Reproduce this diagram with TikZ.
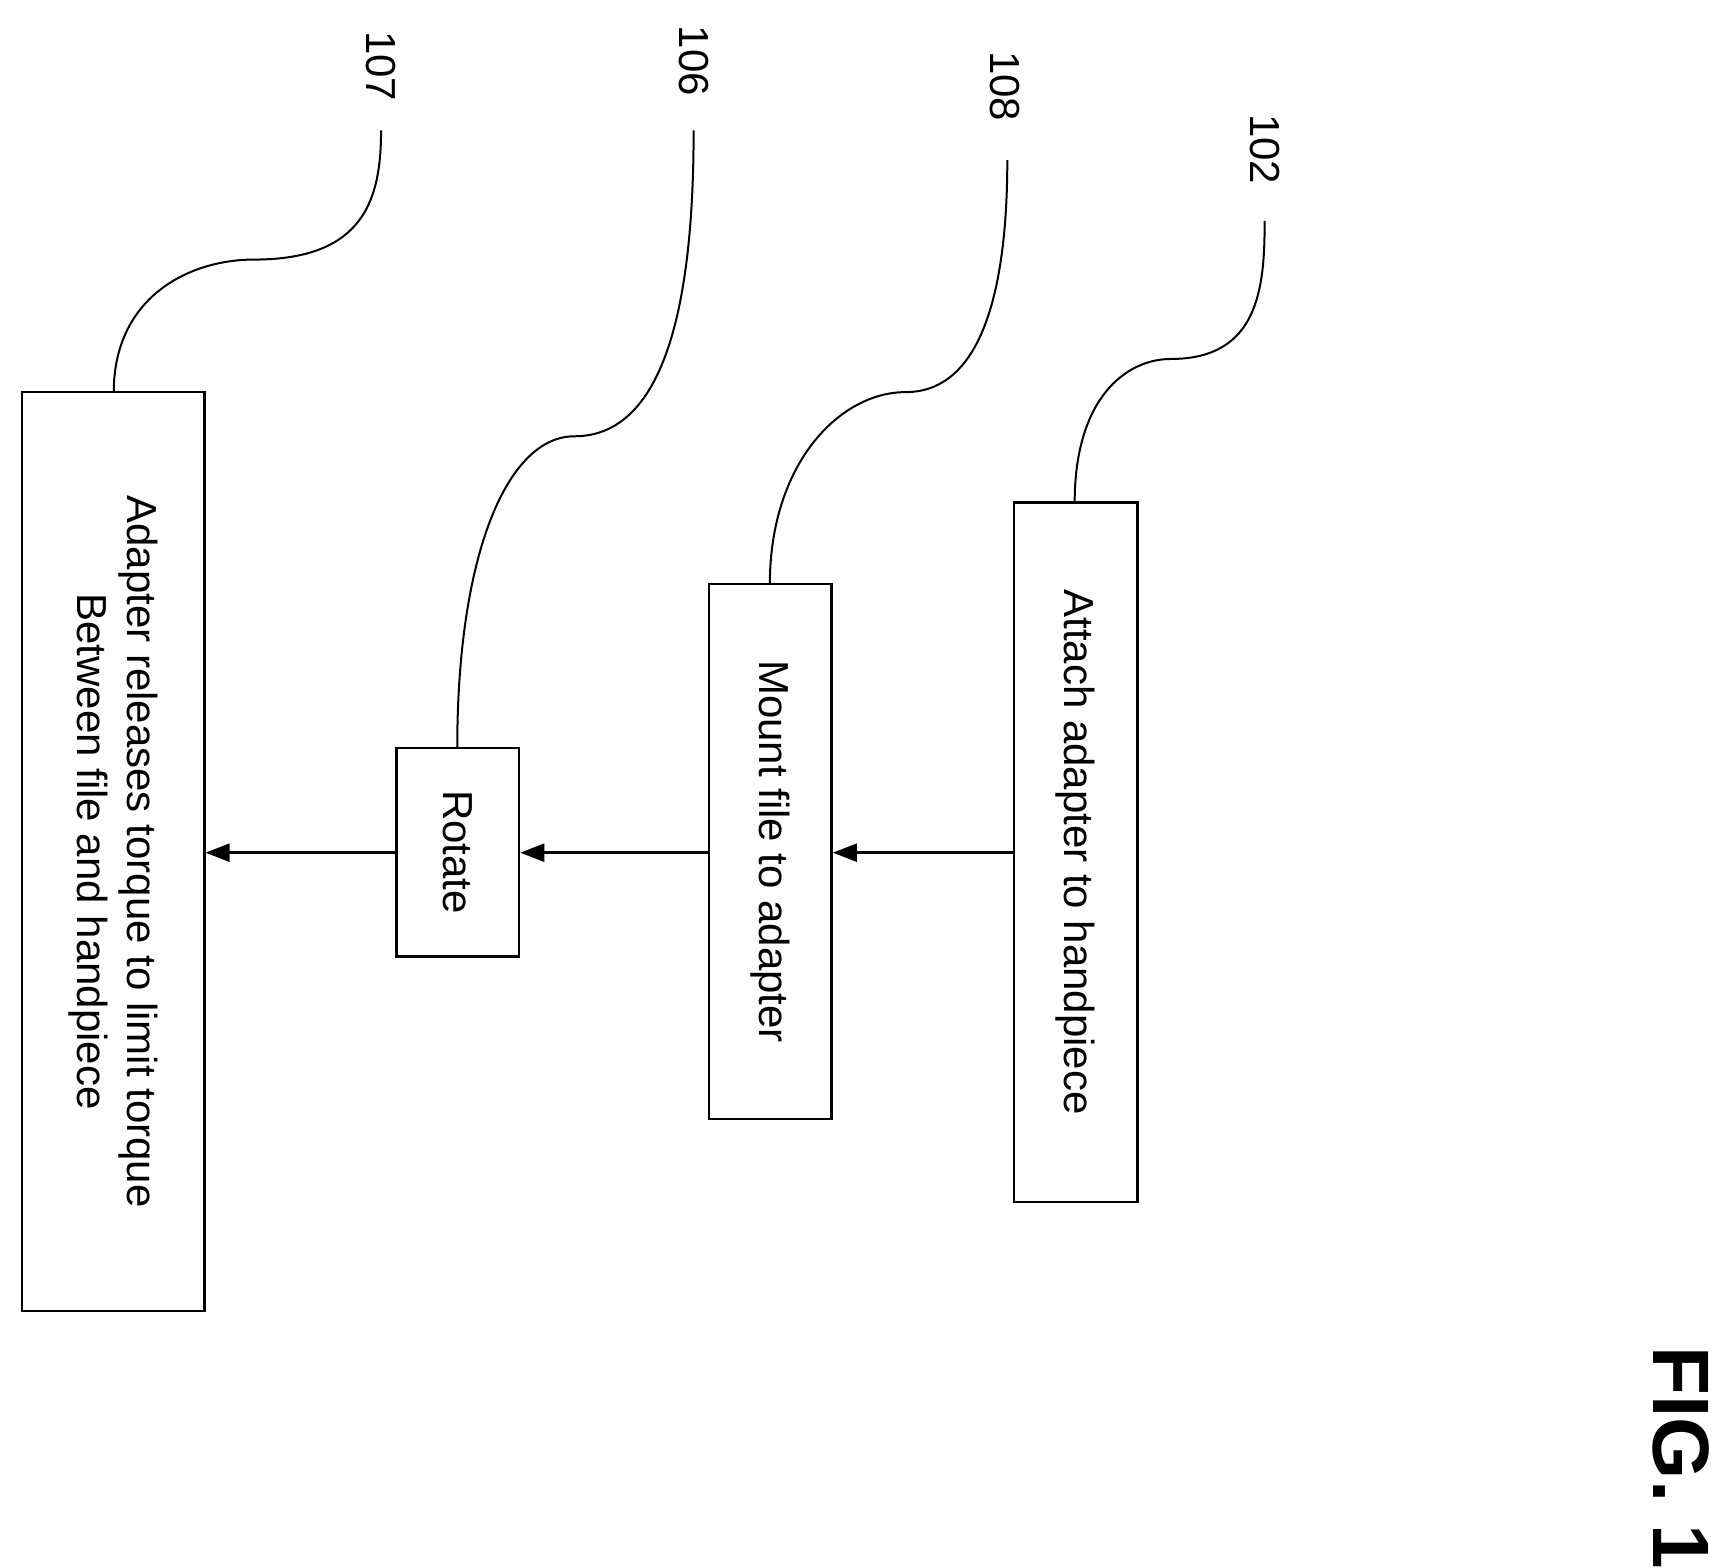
\documentclass[tikz,border=0pt]{standalone}
\usepackage{fontspec}
\setmainfont{Liberation Sans}
\usetikzlibrary{arrows.meta}
\begin{document}
\begin{tikzpicture}[x=0.5523pt,y=-0.5523pt,
  box/.style={draw,line width=1.2pt,inner sep=0pt},
  lbl/.style={rotate=-90,font=\fontsize{21}{25}\selectfont},
  arr/.style={line width=1.2pt,-{Triangle[length=12pt,width=9pt]}},
  lead/.style={line width=1pt}]
\useasboundingbox (0,0) rectangle (1560,1419.6);
\node[box,minimum width=165*0.5523pt,minimum height=832*0.5523pt] (b107) at (102.5,771) {};
\node[lbl,align=center] (t107) at (102.5,771) {Adapter releases torque to limit torque\\Between file and handpiece};
\node[box,minimum width=111*0.5523pt,minimum height=189*0.5523pt] (b106) at (414.5,771.5) {};
\node[lbl] (t106) at (414.5,771.5) {Rotate};
\node[box,minimum width=111*0.5523pt,minimum height=484*0.5523pt] (b108) at (697.5,771) {};
\node[lbl] (t108) at (697.5,771) {Mount file to adapter};
\node[box,minimum width=112*0.5523pt,minimum height=633*0.5523pt] (b102) at (974,771.5) {};
\node[lbl] (t102) at (974,771.5) {Attach adapter to handpiece};
\draw[arr] (b102.west |- 0,772) -- (b108.east |- 0,772);
\draw[arr] (b108.west |- 0,772) -- (b106.east |- 0,772);
\draw[arr] (b106.west |- 0,772) -- (b107.east |- 0,772);
\node[lbl] (n102) at (1145,135) {102};
\node[lbl] (n108) at (910,78) {108};
\node[lbl] (n106) at (628,55) {106};
\node[lbl] (n107) at (345,60) {107};
\coordinate (e102) at (1145,200);
\coordinate (e108) at (912,145);
\coordinate (e106) at (628,118);
\coordinate (e107) at (345,118);
\draw[lead] (b102.north west -| 973,0) ++(0,0) coordinate (s102);
\draw[lead] (973,455) .. controls (973,360) and (1020,325) .. (1060,325) .. controls (1140,325) and (1145,260) .. (e102);
\draw[lead] (697,529) .. controls (697,420) and (760,355) .. (820,355) .. controls (900,355) and (912,230) .. (e108);
\draw[lead] (414,677) .. controls (414,500) and (460,395) .. (520,395) .. controls (610,395) and (628,250) .. (e106);
\draw[lead] (103,355) .. controls (103,270) and (170,235) .. (230,235) .. controls (330,235) and (345,180) .. (e107);
\node[rotate=-90,font=\bfseries\fontsize{40}{44}\selectfont] (fig) at (1522,1320) {FIG. 1};
\end{tikzpicture}
\end{document}
